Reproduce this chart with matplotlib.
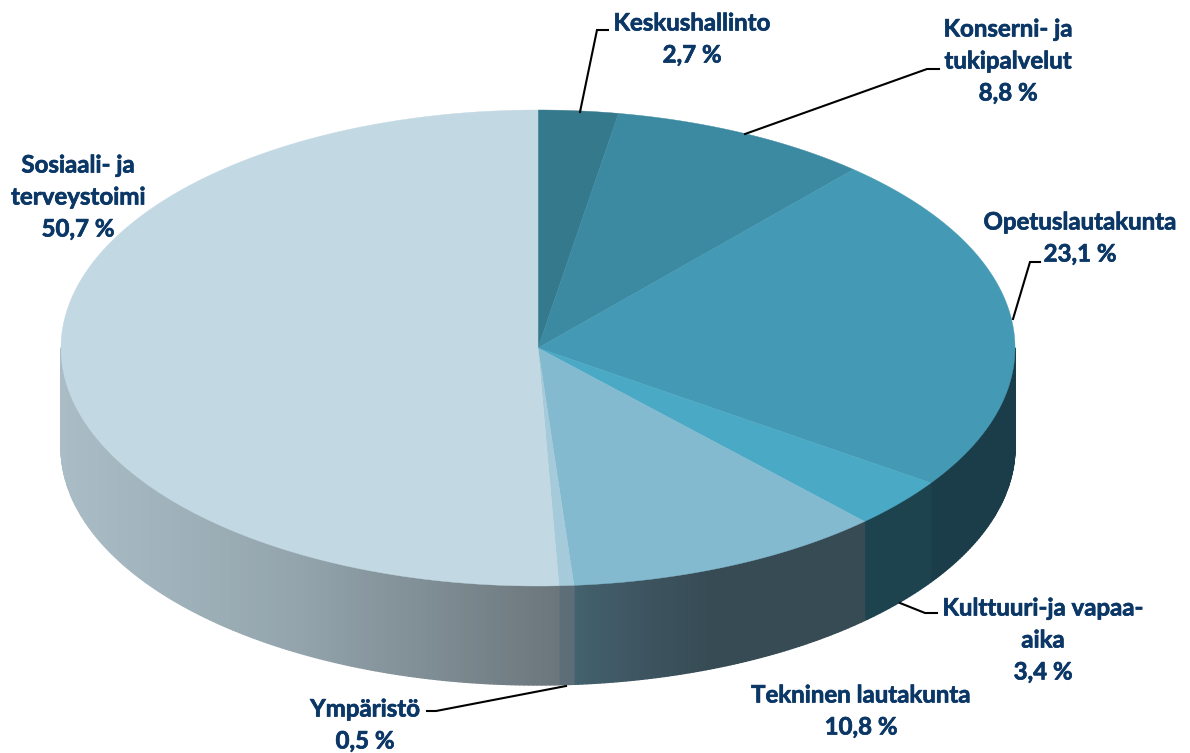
import numpy as np
import matplotlib
matplotlib.use('Agg')
import matplotlib.pyplot as plt
from matplotlib.collections import PolyCollection
from matplotlib.colors import to_rgb
import matplotlib.patheffects as pe

# shares in clockwise order from 12 o'clock
names = ['Keskushallinto', 'Konserni- ja\ntukipalvelut', 'Opetuslautakunta', 'Kulttuuri-ja vapaa-\naika',
         'Tekninen lautakunta', 'Ympäristö', 'Sosiaali- ja\nterveystoimi']
shares = [2.7, 8.8, 23.1, 3.4, 10.8, 0.5, 50.7]
share_labels = ['2,7 %', '8,8 %', '23,1 %', '3,4 %', '10,8 %', '0,5 %', '50,7 %']

top_colors = ['#35798D', '#3C89A2', '#449AB4', '#4AA9C5', '#83BAD0', '#A5CADA', '#C2D8E3']
# side colour stops per slice as (x pixel, colour), None where the wall is hidden
side_colors = [None, None,
               [(930, '#1A3D49'), (1015, '#1A3D49')],
               [(864, '#1D434F'), (930, '#1D434F')],
               [(574, '#43616E'), (640, '#3E5561'), (710, '#364B54'), (864, '#364B54')],
               [(559, '#5D6E78'), (574, '#5D6E78')],
               [(61, '#AABDC6'), (300, '#93A4AC'), (559, '#6B767C')]]

cx, cy = 538, 348
rx, ry = 477, 238
depth = 99

label_pos = [(692, 23), (1008, 29), (1080, 222), (1043, 608), (861, 695), (365, 709), (78, 165)]
line_gap = 32
leaders = [
    [(580, 112), (597, 30), (608, 30)],
    [(745, 134), (927, 69), (939, 69)],
    [(1013, 319), (1030, 262), (1040, 262)],
    [(900, 603), (925, 613), (937, 613)],
    [(566, 686), (436, 711), (427, 711)],
]


def rim(t):
    return cx + rx * np.sin(t), cy - ry * np.cos(t)


fig = plt.figure(figsize=(11.9, 7.53), dpi=100)
ax = fig.add_axes([0, 0, 1, 1])
ax.set_xlim(0, 1190)
ax.set_ylim(753, 0)
ax.axis('off')

edges = np.radians(np.concatenate([[0], np.cumsum(shares)]) / sum(shares) * 360)

# side wall, only the front half of the disc shows
for i in range(len(shares)):
    if side_colors[i] is None:
        continue
    t0 = max(edges[i], np.pi / 2)
    t1 = min(edges[i + 1], 3 * np.pi / 2)
    n = max(int((t1 - t0) * 110), 2)
    ts = np.linspace(t0, t1, n + 1)
    stop_x = [s[0] for s in side_colors[i]]
    stop_c = np.array([to_rgb(s[1]) for s in side_colors[i]])
    polys = []
    cols = []
    for k in range(n):
        xa, ya = rim(ts[k])
        xb, yb = rim(ts[k + 1])
        polys.append([(xa, ya), (xb, yb), (xb, yb + depth), (xa, ya + depth)])
        xm = (xa + xb) / 2
        cols.append([np.interp(xm, stop_x, stop_c[:, c]) for c in range(3)])
    ax.add_collection(PolyCollection(polys, facecolors=cols, edgecolors=cols, linewidths=1.0, zorder=2 + i * 0.01))

# top face
for i in range(len(shares)):
    ts = np.linspace(edges[i], edges[i + 1], 200)
    xs, ys = rim(ts)
    ax.fill(np.r_[cx, xs], np.r_[cy, ys], color=top_colors[i], lw=0.3, zorder=3)

for pts in leaders:
    xs, ys = zip(*pts)
    ax.plot(xs, ys, color='black', lw=1.5, zorder=4, solid_joinstyle='miter')

for name, val, (x, y) in zip(names, share_labels, label_pos):
    rows = name.split('\n') + [val]
    for j, row in enumerate(rows):
        t = ax.text(x, y + j * line_gap, row, ha='center', va='center', family='Lato',
                    fontweight='bold', fontsize=17.3, color='#0B3766', zorder=5)
        t.set_path_effects([pe.withStroke(linewidth=0.5, foreground='#0B3766')])

fig.savefig('out.png', dpi=100)
